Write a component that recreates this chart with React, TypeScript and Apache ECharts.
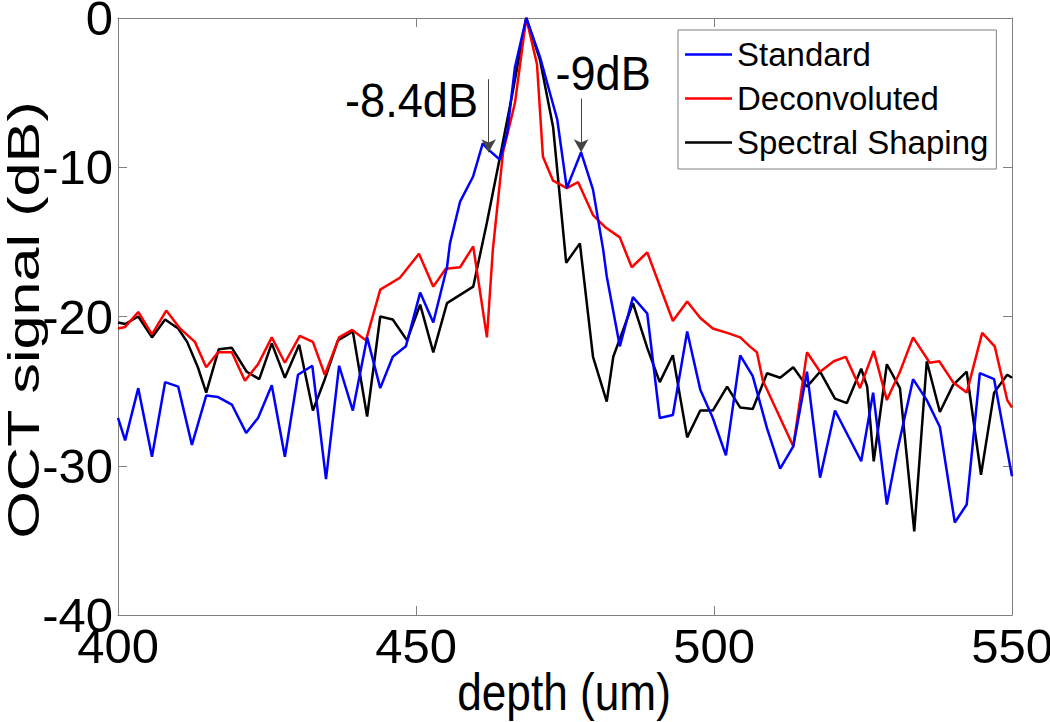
import React, { useEffect, useRef } from 'react';
import * as echarts from 'echarts';

// depth (um) and OCT signal (dB) vertices
const stdDepth = [400.0,401.2,403.4,405.7,407.9,410.1,412.4,414.8,416.8,419.1,421.5,423.5,425.8,428.0,430.2,432.6,434.9,437.1,439.4,441.8,444.0,446.1,448.3,450.7,452.9,455.2,455.7,457.4,459.6,461.2,462.1,464.1,465.3,466.6,468.5,470.8,473.7,475.3,477.7,479.7,481.4,482.0,484.2,486.4,488.8,490.9,493.1,495.5,497.7,499.8,502.0,504.4,506.5,508.9,511.1,513.3,515.6,517.8,520.3,524.7,526.7,529.0,530.7,533.4,535.7,537.9,540.4,542.4,544.6,547.0,550.0];
const stdDb = [-26.8,-28.3,-24.8,-29.4,-24.4,-24.7,-28.6,-25.3,-25.4,-25.9,-27.8,-26.8,-24.6,-29.4,-23.9,-23.3,-30.9,-23.3,-26.3,-21.4,-24.8,-22.7,-22.0,-18.4,-20.4,-16.7,-15.1,-12.3,-10.6,-8.4,-8.8,-9.5,-7.7,-3.3,0,-2.6,-6.8,-11.4,-9.0,-11.5,-15.5,-17.3,-22.0,-18.7,-19.8,-26.8,-26.6,-21.0,-24.9,-26.8,-29.3,-22.6,-24.0,-27.5,-30.2,-28.7,-23.7,-30.8,-26.3,-29.7,-25.1,-32.6,-29.1,-24.2,-25.6,-27.4,-33.8,-32.6,-23.8,-24.2,-30.7];

const decDepth = [400.0,401.2,403.4,405.7,408.1,410.4,412.9,414.8,416.8,419.1,421.3,423.5,425.8,428.0,430.5,432.7,434.7,437.1,439.3,441.6,444.0,447.3,450.5,452.9,455.0,457.4,459.6,461.9,462.9,464.6,466.6,468.5,470.3,471.3,473.0,475.3,477.2,479.7,481.7,484.2,486.2,488.8,493.1,495.5,497.7,499.8,502.2,504.4,506.0,507.2,508.2,513.3,515.6,517.8,520.1,522.1,524.5,526.8,529.0,531.2,533.4,536.2,537.8,540.1,542.4,545.0,547.1,549.2,550.0];
const decDb = [-20.8,-20.7,-19.7,-21.2,-19.6,-20.8,-21.7,-23.4,-22.4,-22.4,-24.3,-23.2,-21.4,-23.1,-21.3,-21.7,-23.9,-21.4,-20.9,-21.6,-18.2,-17.4,-15.8,-18.0,-16.8,-16.7,-15.3,-21.4,-15.5,-9.0,-5.7,0,-3.1,-9.3,-10.9,-11.4,-11.0,-13.2,-14.0,-14.7,-16.7,-15.7,-20.3,-19.0,-20.1,-20.8,-21.1,-21.4,-22.0,-22.4,-24.3,-28.7,-22.4,-23.7,-23.0,-22.7,-24.8,-22.3,-25.6,-23.7,-21.4,-23.1,-23.0,-24.4,-25.1,-21.1,-22.0,-25.6,-26.1];

const ssDepth = [400.0,401.2,403.4,405.7,407.9,410.1,411.6,413.4,414.8,416.9,419.1,421.6,423.7,425.8,428.0,430.4,432.7,434.7,436.9,439.4,441.8,444.0,446.1,448.5,450.7,452.9,455.2,459.6,461.9,464.1,466.3,468.5,470.8,473.0,475.2,477.5,479.7,482.0,483.1,486.4,488.8,490.9,493.1,495.5,497.7,499.8,502.2,504.4,506.5,508.9,511.1,513.3,515.6,517.8,520.3,522.3,524.7,525.7,526.8,529.0,531.2,533.6,535.7,537.9,540.1,542.4,544.8,547.0,549.2,550.0];
const ssDb = [-20.4,-20.5,-20.0,-21.4,-20.2,-20.8,-21.7,-23.4,-25.1,-22.2,-22.1,-23.7,-24.2,-21.8,-24.1,-21.9,-26.3,-24.2,-21.6,-21.0,-26.7,-20.0,-20.2,-21.6,-19.2,-22.4,-19.1,-18.0,-13.7,-9.3,-4.8,0,-2.8,-7.3,-16.4,-15.1,-22.7,-25.7,-22.7,-19.1,-22.1,-24.4,-22.6,-28.1,-26.3,-26.3,-24.7,-26.1,-26.2,-23.8,-24.1,-23.4,-24.7,-23.7,-25.5,-25.8,-23.5,-24.7,-29.7,-23.2,-24.8,-34.4,-23.0,-26.4,-24.6,-23.7,-30.6,-25.1,-23.9,-24.1];

const seriesNames = ['Standard', 'Deconvoluted', 'Spectral Shaping'];
const seriesColors = ['#0000ff', '#ff0000', '#000000'];

// annotation arrows: [depth, top dB, tip dB]
const arrow1 = [462.2, -4.1, -9.0];
const arrow2 = [477.7, -5.4, -9.0];
const label1 = { text: '-8.4dB', depth: 460.4, db: -5.5 };
const label2 = { text: '-9dB', depth: 473.4, db: -3.7 };

const SANS = '"Liberation Sans", Arial, Helvetica, sans-serif';

export default function App() {
  const ref = useRef<HTMLDivElement>(null);
  useEffect(() => {
    const chart = echarts.init(ref.current!, null, { renderer: 'svg' });
    const zip = (xs: number[], ys: number[]) => xs.map((x, i) => [x, ys[i]]);
    const axisColor = '#808080';
    const line = { show: true, onZero: false, lineStyle: { color: axisColor, width: 1 } };
    const tick = { show: true, inside: true, length: 9, lineStyle: { color: axisColor, width: 1 } };
    const lbl = { fontSize: 49, fontFamily: SANS, color: '#000' };
    const datas = [zip(stdDepth, stdDb), zip(decDepth, decDb), zip(ssDepth, ssDb)];
    chart.setOption({
      animation: false,
      backgroundColor: '#ffffff',
      grid: { left: 118, right: 38, top: 18, bottom: 107, outerBoundsMode: 'none', containLabel: false },
      xAxis: [
        { type: 'value', min: 400, max: 550, interval: 50, position: 'bottom', axisLine: line, axisTick: tick,
          axisLabel: { ...lbl, margin: 6 }, splitLine: { show: false } },
        { type: 'value', min: 400, max: 550, interval: 50, position: 'top', axisLine: line, axisTick: tick,
          axisLabel: { show: false }, splitLine: { show: false } },
      ],
      yAxis: [
        { type: 'value', min: -40, max: 0, interval: 10, position: 'left', axisLine: line, axisTick: tick,
          axisLabel: { ...lbl, margin: 5 }, splitLine: { show: false } },
        { type: 'value', min: -40, max: 0, interval: 10, position: 'right', axisLine: line, axisTick: tick,
          axisLabel: { show: false }, splitLine: { show: false } },
      ],
      legend: {
        orient: 'vertical', left: 678, top: 30,
        data: seriesNames,
        icon: 'rect',
        borderColor: axisColor, borderWidth: 1, backgroundColor: '#ffffff', borderRadius: 0,
        padding: [8, 8, 10, 7], itemGap: 11, itemWidth: 47, itemHeight: 2.5,
        textStyle: { fontSize: 33, fontFamily: SANS, color: '#000' },
      },
      series: seriesNames.map((name, i) => ({
        name, type: 'line', data: datas[i], showSymbol: false, symbol: 'none', smooth: false,
        lineStyle: { color: seriesColors[i], width: 2.5 }, itemStyle: { color: seriesColors[i] },
        z: 3 - i,
        markLine: i === 0 ? {
          silent: true, symbol: ['none', 'arrow'], symbolSize: [11, 13],
          label: { show: false },
          lineStyle: { color: '#444444', width: 1, type: 'solid' },
          data: [
            [{ coord: [arrow1[0], arrow1[1]] }, { coord: [arrow1[0], arrow1[2]] }],
            [{ coord: [arrow2[0], arrow2[1]] }, { coord: [arrow2[0], arrow2[2]] }],
          ],
        } : undefined,
      })),
    });
    const p1 = chart.convertToPixel({ xAxisIndex: 0, yAxisIndex: 0 }, [label1.depth, label1.db]);
    const p2 = chart.convertToPixel({ xAxisIndex: 0, yAxisIndex: 0 }, [label2.depth, label2.db]);
    chart.setOption({
      graphic: [
        { type: 'text', x: 23, y: 320, rotation: Math.PI / 2, scaleX: 1.36,
          style: { text: 'OCT signal (dB)', fontSize: 45, fontFamily: SANS, fill: '#000', align: 'center', verticalAlign: 'middle' } },
        { type: 'text', x: 564, y: 692, scaleX: 0.85,
          style: { text: 'depth (um)', fontSize: 52, fontFamily: SANS, fill: '#000', align: 'center', verticalAlign: 'middle' } },
        { type: 'text', x: p1[0], y: p1[1], scaleX: 0.94,
          style: { text: label1.text, fontSize: 48, fontFamily: SANS, fill: '#000', align: 'right', verticalAlign: 'middle' } },
        { type: 'text', x: p2[0], y: p2[1], scaleX: 0.94,
          style: { text: label2.text, fontSize: 48, fontFamily: SANS, fill: '#000', align: 'left', verticalAlign: 'middle' } },
      ],
    });
    return () => chart.dispose();
  }, []);
  return <div ref={ref} style={{ position: 'fixed', left: 0, top: 0, width: 1050, height: 722, background: '#fff' }} />;
}
